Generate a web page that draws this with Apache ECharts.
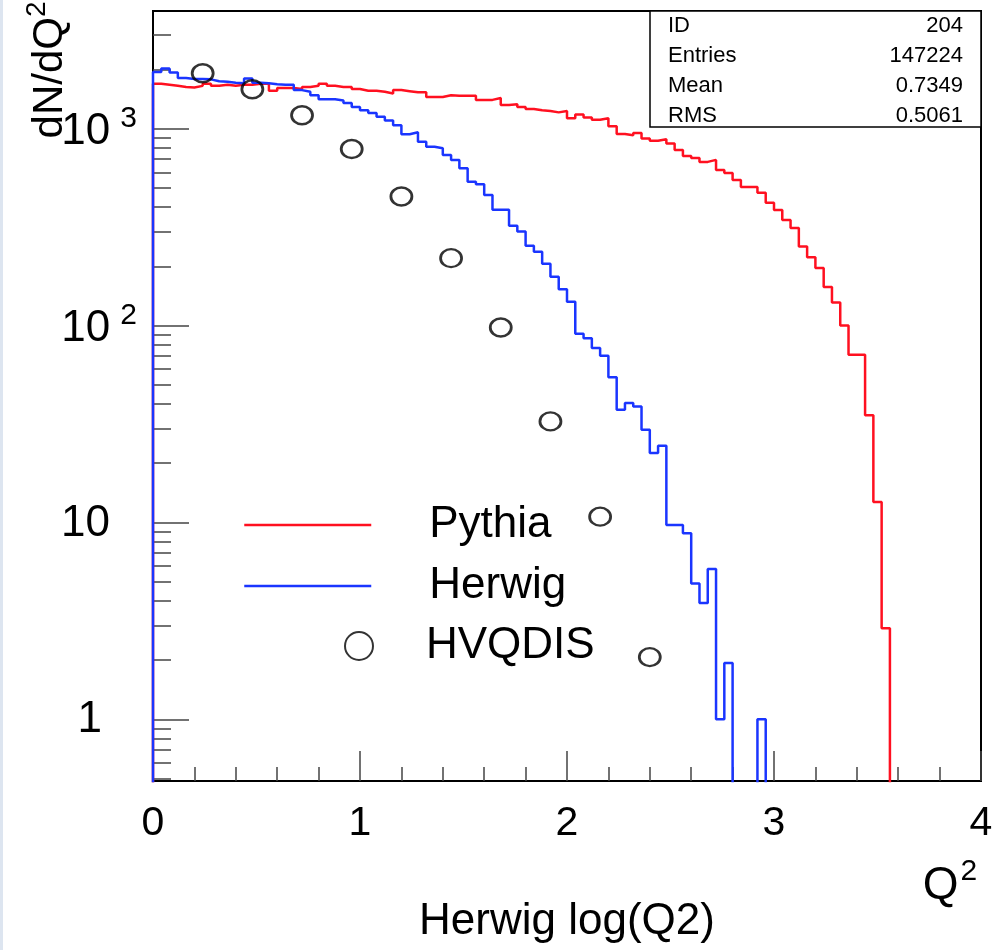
<!DOCTYPE html>
<html>
<head>
<meta charset="utf-8">
<title>Herwig log(Q2)</title>
<script src="https://cdn.jsdelivr.net/npm/echarts@6/dist/echarts.min.js"></script>
<style>
  html, body { margin: 0; padding: 0; background: #fff; }
  #chart { width: 996px; height: 950px; }
</style>
</head>
<body>
<div id="chart"></div>
<script>
// histogram bins: 100 bins of 0.04 in log(Q2), from 0 to 4
var binWidth = 0.04;

var pythia = [
  1690, 1670, 1650, 1630, 1620, 1650, 1690, 1650, 1670, 1650,
  1670, 1670, 1690, 1690, 1560, 1610, 1610, 1590, 1630, 1650,
  1690, 1650, 1630, 1630, 1590, 1560, 1560, 1540, 1510, 1570,
  1550, 1530, 1530, 1450, 1450, 1480, 1470, 1470, 1470, 1400,
  1400, 1430, 1320, 1330, 1290, 1260, 1240, 1230, 1210, 1230,
  1130, 1180, 1140, 1110, 1130, 1030, 940, 925, 950, 892,
  869, 884, 841, 780, 727, 710, 678, 694, 617, 596,
  549, 506, 506, 472, 420, 386, 344, 313, 252, 222,
  196, 157, 131, 100, 71, 71, 35, 12.7, 2.9, 0,
  0, 0, 0, 0, 0, 0, 0, 0, 0, 0
];

var herwig = [
  1940, 2020, 1930, 1810, 1790, 1790, 1780, 1740, 1730, 1710,
  1700, 1800, 1710, 1700, 1680, 1670, 1670, 1570, 1540, 1480,
  1410, 1410, 1390, 1350, 1290, 1240, 1200, 1150, 1100, 1040,
  937, 959, 859, 810, 795, 735, 694, 630, 538, 522,
  461, 387, 387, 321, 300, 254, 237, 206, 177, 153,
  132, 90.8, 86.3, 76.8, 70.2, 54.7, 37.3, 40.4, 38.8, 29.6,
  22.5, 24.5, 9.7, 9.7, 8.8, 4.9, 3.9, 5.8, 1, 1.93,
  0, 0, 0, 1, 0, 0, 0, 0, 0, 0,
  0, 0, 0, 0, 0, 0, 0, 0, 0, 0,
  0, 0, 0, 0, 0, 0, 0, 0, 0, 0
];

var hvqdisX = [0.24, 0.48, 0.72, 0.96, 1.2, 1.44, 1.68, 1.92, 2.16, 2.4];
var hvqdisY = [1911, 1585, 1170, 788, 452, 220, 97.7, 32.6, 10.7, 2.07];

var yMin = 0.486;
var yMax = 3960;
var yMajor = [1, 10, 100, 1000];
var yMinor = [0.5, 0.6, 0.7, 0.8, 0.9, 2, 3, 4, 5, 6, 7, 8, 9,
  20, 30, 40, 50, 60, 70, 80, 90, 200, 300, 400, 500, 600, 700, 800, 900, 2000, 3000];

var stats = [['ID', '204'], ['Entries', '147224'], ['Mean', '0.7349'], ['RMS', '0.5061']];

var FONT = '"Liberation Sans", Arial, Helvetica, sans-serif';
var RED = '#ff1020';
var BLUE = '#1a35ff';
var circlePath = 'path://M0,10A10,10,0,1,1,20,10A10,10,0,1,1,0,10Z';

// empty bins sit below the axis and get clipped, like ROOT does
function histPoints(counts) {
  var low = 1e-3;
  var pts = [[0, low]];
  counts.forEach(function (c, i) {
    pts.push([+(i * binWidth).toFixed(2), c > 0 ? c : low]);
  });
  var last = counts[counts.length - 1];
  pts.push([4, last > 0 ? last : low]);
  return pts;
}

var statsGraphic = [{
  type: 'rect',
  shape: { x: 650, y: 11, width: 331, height: 116 },
  style: { fill: '#fff', stroke: '#000', lineWidth: 1.5 },
  z: 10
}];
stats.forEach(function (row, i) {
  var y = 26 + i * 30;
  statsGraphic.push({
    type: 'text', x: 668, y: y, z: 11,
    style: { text: row[0], font: '22px ' + FONT, fill: '#000', textAlign: 'left', textVerticalAlign: 'middle' }
  });
  statsGraphic.push({
    type: 'text', x: 963, y: y, z: 11,
    style: { text: row[1], font: '22px ' + FONT, fill: '#000', textAlign: 'right', textVerticalAlign: 'middle' }
  });
});

var chart = echarts.init(document.getElementById('chart'));
chart.setOption({
  animation: false,
  backgroundColor: '#fff',
  textStyle: { fontFamily: FONT },
  grid: {
    left: 153, right: 15, top: 11, bottom: 169,
    show: true, borderColor: '#000', borderWidth: 2, backgroundColor: 'transparent'
  },
  legend: [
    {
      data: ['Pythia', 'Herwig'],
      orient: 'vertical',
      left: 243, top: 503,
      padding: 0,
      itemWidth: 127, itemHeight: 40, itemGap: 17,
      selectedMode: false,
      itemStyle: { opacity: 0 },
      lineStyle: { width: 2.5 },
      textStyle: { fontSize: 44, color: '#000', fontFamily: FONT, padding: [0, 0, 0, 53] }
    },
    {
      data: ['HVQDIS'],
      orient: 'vertical',
      left: 344, top: 624,
      padding: 0,
      itemWidth: 34, itemHeight: 28,
      selectedMode: false,
      textStyle: { fontSize: 44, color: '#000', fontFamily: FONT, padding: [0, 0, 0, 45] }
    }
  ],
  xAxis: {
    type: 'value',
    min: 0, max: 4, interval: 1,
    name: 'Herwig log(Q2)',
    nameLocation: 'middle',
    nameGap: 119,
    nameTextStyle: { fontSize: 44, color: '#000', fontFamily: FONT },
    axisLine: { lineStyle: { color: '#000', width: 2 } },
    axisTick: { inside: true, length: 30, lineStyle: { color: '#444', width: 1.5 } },
    minorTick: { show: true, splitNumber: 5, length: 14, lineStyle: { color: '#444', width: 1.5 } },
    splitLine: { show: false },
    axisLabel: { fontSize: 41, color: '#000', margin: 22, fontFamily: FONT }
  },
  yAxis: [
    {
      type: 'log', logBase: 10,
      min: yMin, max: yMax,
      position: 'left',
      axisLine: { show: true, lineStyle: { color: '#000', width: 2 } },
      splitLine: { show: false },
      axisTick: { show: true, inside: true, length: 36, customValues: yMajor, lineStyle: { color: '#444', width: 1.5 } },
      axisLabel: {
        customValues: yMajor,
        margin: 16,
        formatter: function (v) {
          var e = Math.round(Math.log(v) / Math.LN10);
          if (e >= 2) return '{n|10}{sup|' + e + '}';
          if (e === 1) return '{p|10}{pad10|}';
          return '{p|1}{pad1|}';
        },
        rich: {
          n: { fontSize: 44, color: '#000', fontFamily: FONT, verticalAlign: 'bottom', lineHeight: 46 },
          p: { fontSize: 44, color: '#000', fontFamily: FONT, verticalAlign: 'bottom', lineHeight: 46, padding: [10, 0, 0, 0] },
          sup: { fontSize: 30, color: '#000', fontFamily: FONT, verticalAlign: 'bottom', padding: [0, 0, 20, 10] },
          pad10: { width: 27 },
          pad1: { width: 35 }
        }
      }
    },
    {
      type: 'log', logBase: 10,
      min: yMin, max: yMax,
      position: 'left',
      axisLine: { show: false },
      splitLine: { show: false },
      axisTick: { show: true, inside: true, length: 18, customValues: yMinor, lineStyle: { color: '#444', width: 1.5 } },
      axisLabel: { show: false }
    }
  ],
  series: [
    {
      name: 'Pythia',
      type: 'line',
      step: 'end',
      color: RED,
      symbol: 'none',
      lineStyle: { color: RED, width: 2.5 },
      data: histPoints(pythia),
      z: 3
    },
    {
      name: 'Herwig',
      type: 'line',
      step: 'end',
      color: BLUE,
      symbol: 'none',
      lineStyle: { color: BLUE, width: 2.5 },
      data: histPoints(herwig),
      z: 4
    },
    {
      name: 'HVQDIS',
      type: 'scatter',
      symbol: circlePath,
      symbolKeepAspect: false,
      symbolSize: [21, 18],
      itemStyle: { color: 'rgba(0,0,0,0)', borderColor: '#000', borderWidth: 2.6 },
      data: hvqdisX.map(function (x, i) { return [x, hvqdisY[i]]; }),
      z: 5
    }
  ],
  graphic: statsGraphic.concat([
    {
      type: 'rect',
      shape: { x: 0, y: 0, width: 3, height: 950 },
      style: { fill: '#dde5f0' }
    },
    {
      type: 'text',
      x: 47, y: 70,
      rotation: Math.PI / 2,
      style: {
        text: '{m|dN/dQ}{s|2}',
        textAlign: 'center', textVerticalAlign: 'middle',
        rich: {
          m: { fontSize: 42, fontFamily: FONT, fill: '#000', verticalAlign: 'bottom' },
          s: { fontSize: 28, fontFamily: FONT, fill: '#000', verticalAlign: 'bottom', padding: [0, 0, 20, 0] }
        }
      }
    },
    {
      type: 'text',
      x: 950, y: 883,
      style: {
        text: '{m|Q}{s|2}',
        textAlign: 'center', textVerticalAlign: 'middle',
        rich: {
          m: { fontSize: 46, fontFamily: FONT, fill: '#000', verticalAlign: 'bottom' },
          s: { fontSize: 30, fontFamily: FONT, fill: '#000', verticalAlign: 'bottom', padding: [0, 0, 22, 2] }
        }
      }
    }
  ])
});
</script>
</body>
</html>
